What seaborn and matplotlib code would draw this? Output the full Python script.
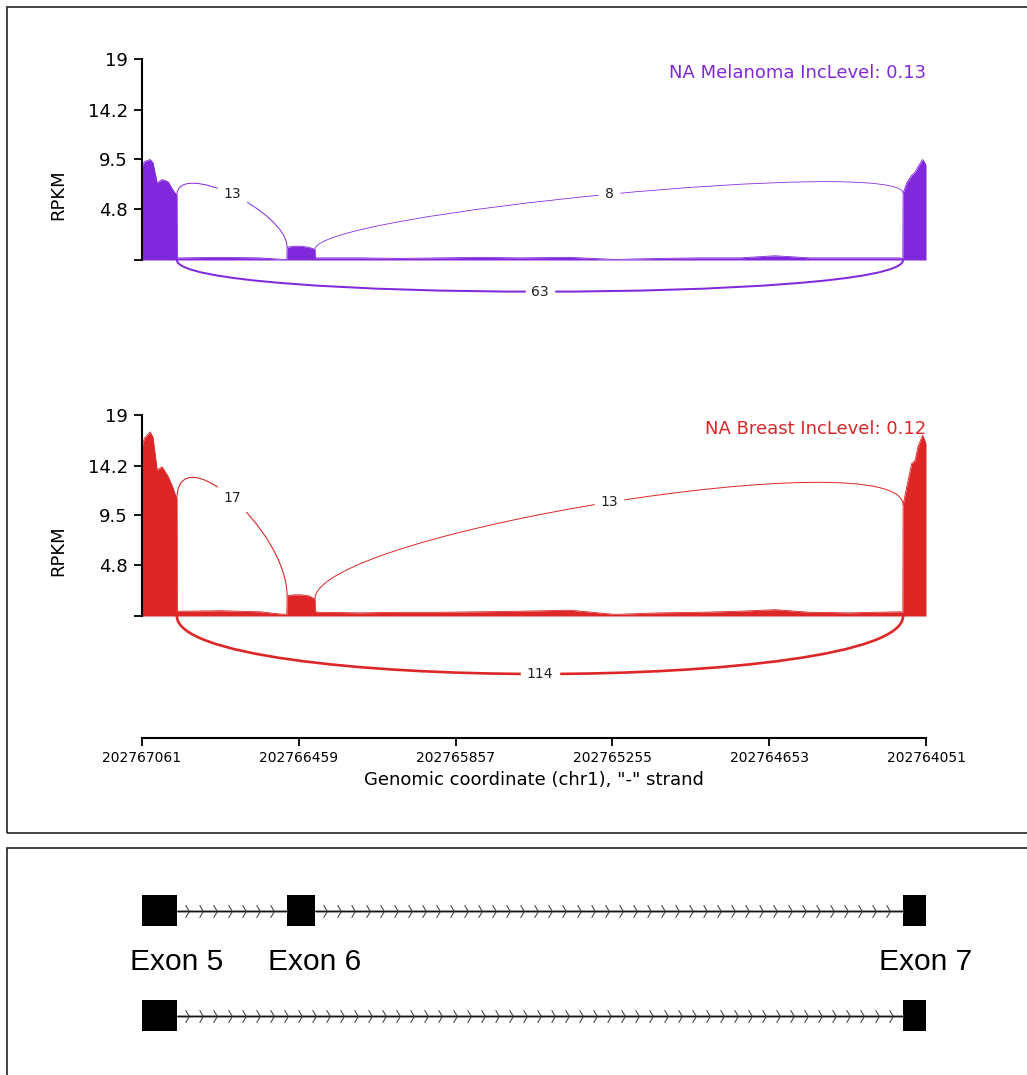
import numpy as np
import pandas as pd
import matplotlib
matplotlib.use("Agg")
import matplotlib.pyplot as plt
import matplotlib.transforms as mtransforms
from matplotlib.path import Path
from matplotlib.patches import PathPatch, Rectangle
import seaborn as sns

positions = [202767061, 202767052, 202767030, 202767019, 202767003, 202766984,
             202766961, 202766942, 202766927, 202766926, 202766915, 202766762,
             202766608, 202766516, 202766505, 202766504, 202766480, 202766451,
             202766420, 202766397, 202766396, 202766378, 202766224, 202766071,
             202765917, 202765763, 202765610, 202765418, 202765245, 202765072,
             202764919, 202764765, 202764631, 202764496, 202764343, 202764151,
             202764140, 202764139, 202764125, 202764106, 202764093, 202764082,
             202764064, 202764051]
melanoma_rpkm = [8.8, 9.3, 9.5, 9.2, 7.3, 7.6, 7.4, 6.6, 6.1, 0.2, 0.2, 0.25,
                 0.2, 0.05, 0.05, 1.2, 1.3, 1.3, 1.2, 1.0, 0.2, 0.2, 0.2, 0.15,
                 0.2, 0.25, 0.2, 0.25, 0.05, 0.15, 0.2, 0.2, 0.4, 0.2, 0.2, 0.2,
                 0.15, 6.3, 7.3, 8.0, 8.3, 8.8, 9.5, 9.0]
breast_rpkm = [16.0, 16.8, 17.4, 16.9, 13.8, 14.1, 13.2, 12.1, 11.0, 0.45, 0.45, 0.5,
               0.4, 0.15, 0.2, 1.9, 2.0, 2.0, 1.9, 1.6, 0.4, 0.35, 0.3, 0.35,
               0.35, 0.4, 0.45, 0.55, 0.15, 0.3, 0.35, 0.45, 0.6, 0.35, 0.3, 0.4,
               0.35, 10.5, 12.2, 14.4, 14.7, 16.0, 17.1, 16.3]

samples = ["NA Melanoma", "NA Breast"]
inc_levels = [0.13, 0.12]
colors = ["#8228dc", "#dd2727"]

exon_names = ["Exon 5", "Exon 6", "Exon 7"]
exon_starts = [202767061, 202766504, 202764139]
exon_ends = [202766927, 202766397, 202764051]
isoforms = [[0, 1, 2], [0, 2]]

# junctions as (donor end, acceptor start)
junctions = [(202766927, 202766504), (202766397, 202764139), (202766927, 202764139)]
melanoma_counts = [13, 8, 63]
breast_counts = [17, 13, 114]
junction_above = [True, True, False]

xticks = [202767061, 202766459, 202765857, 202765255, 202764653, 202764051]
yticks = [0, 4.8, 9.5, 14.2, 19]
ytick_labels = ["", "4.8", "9.5", "14.2", "19"]

sns.set_theme(style="ticks")
plt.rcParams["font.family"] = ["DejaVu Sans"]
plt.rcParams["text.color"] = "black"
plt.rcParams["axes.labelcolor"] = "black"

W, H = 1027, 1075
fig = plt.figure(figsize=(W / 100, H / 100), dpi=100)


def px_rect(x0, y0, x1, y1):
    return [x0 / W, 1 - y1 / H, (x1 - x0) / W, (y1 - y0) / H]


xlim = (202767061, 202764051)
ylim = (-9, 20)
unit = 10.58  # px per RPKM
zero_px = [260, 616]

covs = [melanoma_rpkm, breast_rpkm]
counts = [melanoma_counts, breast_counts]
max_count = max(max(c) for c in counts)

for i in range(2):
    z = zero_px[i]
    ax = fig.add_axes(px_rect(142, z - ylim[1] * unit, 926, z - ylim[0] * unit))
    cov = covs[i]
    col = colors[i]
    df = pd.DataFrame({"pos": positions, "rpkm": cov})
    ax.fill_between(df["pos"], 0, df["rpkm"], color=col, lw=0)
    sns.lineplot(data=df, x="pos", y="rpkm", ax=ax, color=col, lw=0.6)

    lookup = dict(zip(positions, cov))
    for (ss1, ss2), n, above in zip(junctions, counts[i], junction_above):
        if above:
            h = 0.36 * max(cov)
            l, r = lookup[ss1], lookup[ss2]
            pts = [(ss1, l), (ss1, l + h), (ss2, r + h), (ss2, r)]
        else:
            h = 0.42 * max(cov)
            pts = [(ss1, 0), (ss1, -h), (ss2, -h), (ss2, 0)]
        path = Path(pts, [Path.MOVETO, Path.CURVE4, Path.CURVE4, Path.CURVE4])
        lw = 1.8 * np.sqrt(n / max_count) + 0.1
        ax.add_patch(PathPatch(path, ec=col, fc="none", lw=lw))
        mx = (pts[0][0] + 3 * pts[1][0] + 3 * pts[2][0] + pts[3][0]) / 8
        my = (pts[0][1] + 3 * pts[1][1] + 3 * pts[2][1] + pts[3][1]) / 8
        ax.text(mx, my, str(n), fontsize=10, ha="center", va="center",
                color="#222222", backgroundcolor="w")

    ax.set_xlim(xlim)
    ax.set_ylim(ylim)
    ax.set_yticks(yticks)
    ax.set_yticklabels(ytick_labels)
    ax.set_xticks([])
    ax.set_xlabel("")
    ax.set_ylabel("RPKM", fontsize=13, color="black")
    ax.yaxis.set_label_coords(-0.0957, 6.2,
                              transform=mtransforms.blended_transform_factory(ax.transAxes, ax.transData))
    for s in ["top", "right", "bottom"]:
        ax.spines[s].set_visible(False)
    ax.spines["left"].set_bounds(0, 19)
    ax.spines["left"].set_linewidth(1.5)
    ax.spines["left"].set_color("black")
    ax.tick_params(axis="y", length=6, width=1.3, labelsize=13, pad=4,
                   color="black", labelcolor="black")
    ax.patch.set_alpha(0)
    ax.text(xlim[1], 17.7, f"{samples[i]} IncLevel: {inc_levels[i]}", color=col,
            ha="right", va="center", fontsize=13)

# shared genomic axis
axx = fig.add_axes(px_rect(142, 718, 926, 738))
axx.set_xlim(xlim)
axx.set_yticks([])
axx.set_xticks(xticks)
axx.set_xticklabels([str(t) for t in xticks])
for s in ["top", "right", "left"]:
    axx.spines[s].set_visible(False)
axx.spines["bottom"].set_linewidth(1.5)
axx.spines["bottom"].set_color("black")
axx.tick_params(axis="x", length=6, width=1.3, labelsize=10, pad=3,
                color="black", labelcolor="black")
axx.set_xlabel('Genomic coordinate (chr1), "-" strand', fontsize=13, labelpad=5, color="black")
axx.patch.set_alpha(0)

# transcript structures
axg = fig.add_axes(px_rect(142, 848, 926, 1075))
axg.set_xlim(xlim)
axg.set_ylim(227, 0)
axg.axis("off")
chevron = Path([(-0.3, 1), (0.3, 0), (-0.3, -1)], [Path.MOVETO, Path.LINETO, Path.LINETO])
row_y = [62.5, 167.5]
exon_h = 31
for iso, y in zip(isoforms, row_y):
    for a, b in zip(iso[:-1], iso[1:]):
        x0, x1 = exon_ends[a], exon_starts[b]
        axg.plot([x0, x1], [y, y], color="#9a9a9a", lw=2.2, solid_capstyle="butt")
        axg.plot([x0, x1], [y, y], color="#111111", lw=0.7)
        marks = np.arange(x0 - 40, x1 + 10, -54)
        axg.plot(marks, np.full(len(marks), y), ls="none", marker=chevron, ms=9,
                 mfc="none", mec="#333333", mew=0.7)
    for e in iso:
        axg.add_patch(Rectangle((exon_starts[e], y - exon_h / 2), exon_ends[e] - exon_starts[e],
                                exon_h, color="black", lw=0))
for name, end in zip(exon_names, exon_ends):
    axg.text(end, 114, name, ha="center", va="center", fontsize=21.5,
             family=["Liberation Sans", "DejaVu Sans"], color="black")

# panel frames
fig.add_artist(Rectangle((7 / W, 1 - 833 / H), 1.1, (833 - 7) / H, transform=fig.transFigure,
                         fill=False, ec="#222222", lw=1.2))
fig.add_artist(Rectangle((7 / W, 1 - 1100 / H), 1.1, (1100 - 848) / H, transform=fig.transFigure,
                         fill=False, ec="#222222", lw=1.2))

fig.savefig("out.png", dpi=100)
